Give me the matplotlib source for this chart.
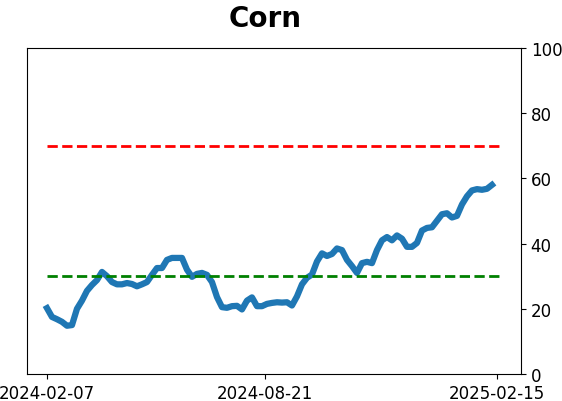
import matplotlib
matplotlib.use("Agg")
import matplotlib.pyplot as plt
import numpy as np

# values, evenly spaced in time
values = [20.2, 17.5, 16.8, 16.0, 14.8, 15.0, 20.0, 22.5, 25.5, 27.3,
          28.8, 31.3, 30.0, 28.2, 27.5, 27.5, 27.9, 27.6, 26.9, 27.5,
          28.2, 30.4, 32.5, 32.5, 35.0, 35.6, 35.6, 35.6, 32.0, 29.8,
          30.7, 31.0, 30.4, 28.2, 23.6, 20.5, 20.3, 20.8, 20.9, 19.8,
          22.5, 23.5, 20.8, 20.8, 21.5, 21.8, 22.0, 21.9, 22.0, 21.0,
          23.8, 27.5, 29.5, 30.5, 34.5, 37.0, 36.2, 36.8, 38.5, 38.0,
          35.0, 33.1, 31.0, 34.0, 34.4, 34.0, 38.0, 41.0, 42.0, 41.0,
          42.5, 41.5, 39.0, 39.0, 40.2, 44.0, 44.8, 45.0, 47.0, 49.0,
          49.3, 48.0, 48.5, 52.0, 54.5, 56.3, 56.7, 56.5, 56.8, 58.0]
tick_pos = [0, 43.6, 90]
tick_labels = ["2024-02-07", "2024-08-21", "2025-02-15"]
upper = 70
lower = 30

x = np.arange(len(values))

fig = plt.figure(figsize=(5.62, 4.02), dpi=100)
ax = fig.add_axes([0.048, 0.0672, 0.879, 0.811])

ax.plot(x, values, color="#1f77b4", linewidth=4.5)
ax.hlines(upper, 0, 90.6, colors="red", linestyles="--", linewidth=2)
ax.hlines(lower, 0, 90.6, colors="green", linestyles="--", linewidth=2)

ax.set_xlim(-4, 94.8)
ax.set_ylim(0, 100)
ax.set_xticks(tick_pos)
ax.set_xticklabels(tick_labels, fontsize=12)
ax.yaxis.tick_right()
ax.tick_params(axis="y", labelsize=12)
ax.set_title("Corn", fontsize=20, fontweight="bold", pad=16, x=0.482)

fig.savefig("out.png", dpi=100)
